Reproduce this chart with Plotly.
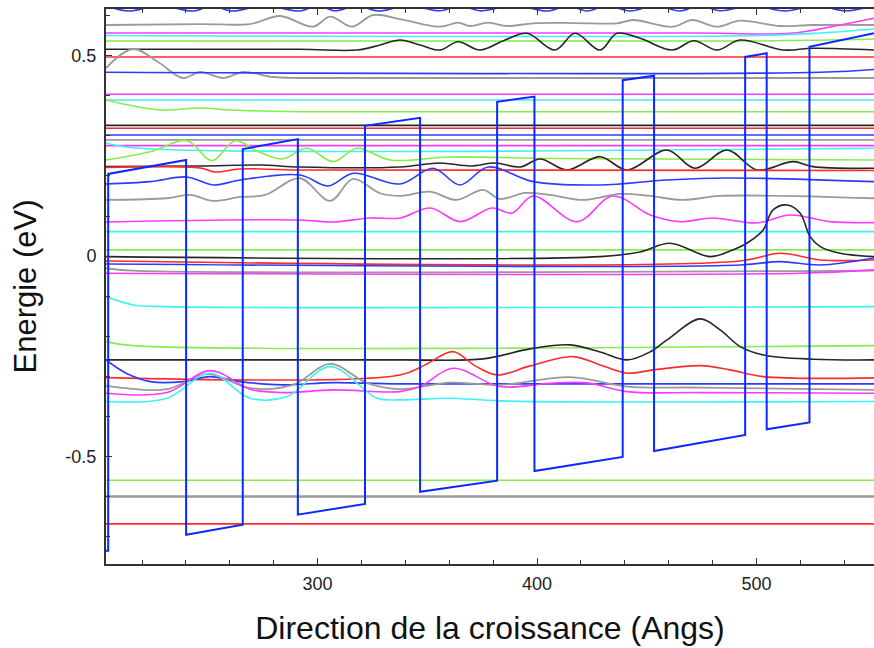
import plotly.graph_objects as go

# ---------------- axes ----------------
x_range = [203.6, 553.5]
y_range = [-0.768, 0.6165]
y_tick_vals = [-0.5, 0, 0.5]
y_tick_text = ["-0.5", "0", "0.5"]
x_tick_vals = [300, 400, 500]
x_tick_text = ["300", "400", "500"]

# ---------------- flat sub-band levels (eV) ----------------
red_levels = [0.4968, 0.319, -0.6678]
blue_levels = [0.3022]
gray_levels = [0.2898]
gray_thick_levels = [-0.5998]
magenta_levels = [0.4037, 0.2756]
cyan_levels = [0.3895, 0.0611]
green_levels = [0.0155, -0.5589]
black_levels = [0.3264]

# ---------------- wavy states (x in Angs, y in eV) ----------------
blue_edge_x = [203.6, 213.7, 228.0, 243.7, 252.0, 260.6, 276.0, 292.0, 300.0, 308.0, 318.0, 327.6,
               341.0, 355.8, 365.0, 374.0, 390.0, 405.0, 414.0, 422.8, 432.0, 442.4, 454.0, 465.1,
               474.0, 483.4, 498.0, 513.0, 527.0, 540.8, 553.5]
blue_edge_y = [0.625, 0.6115, 0.625, 0.6115, 0.625, 0.6115, 0.625, 0.6115, 0.625, 0.612, 0.625, 0.6115,
               0.625, 0.612, 0.625, 0.612, 0.625, 0.6115, 0.625, 0.6115, 0.625, 0.6115, 0.625, 0.6115,
               0.625, 0.612, 0.625, 0.6115, 0.625, 0.612, 0.625]

gray_a_x = [203.6, 246.5, 269.2, 282.9, 297.9, 305.7, 315.7, 325.3, 337.6, 355.8, 364.0, 369.5, 377.7,
            386.3, 398.2, 417.3, 436.4, 443.7, 461.9, 470.6, 482.0, 492.5, 510.7, 525.7, 553.5]
gray_a_y = [0.5766, 0.579, 0.579, 0.599, 0.5723, 0.5973, 0.5723, 0.6015, 0.5915, 0.5723, 0.5823, 0.5741,
            0.5823, 0.5741, 0.5808, 0.5815, 0.5808, 0.589, 0.5723, 0.589, 0.5723, 0.5873, 0.5741, 0.5766, 0.5766]

magenta_a_x = [203.6, 474.3, 515.3, 535.8, 553.5]
magenta_a_y = [0.5566, 0.5566, 0.5558, 0.5741, 0.5933]

cyan_a_x = [203.6, 501.6, 528.9, 553.5]
cyan_a_y = [0.5504, 0.5504, 0.5566, 0.5666]

green_a_x = [203.6, 500.0, 553.5]
green_a_y = [0.5367, 0.5367, 0.5416]

black_a_x = [203.6, 292.0, 318.0, 328.5, 337.6, 346.7, 355.8, 364.0, 374.0, 385.4, 395.4, 408.2, 417.3,
             428.7, 436.4, 446.9, 461.5, 471.5, 482.0, 492.5, 512.1, 525.7, 553.5]
black_a_y = [0.516, 0.516, 0.5142, 0.5267, 0.5392, 0.5267, 0.5142, 0.5349, 0.5142, 0.5392, 0.5559, 0.5142,
             0.5559, 0.5142, 0.5559, 0.5434, 0.5142, 0.5374, 0.5142, 0.5392, 0.5142, 0.5185, 0.5142]

gray_b_x = [203.6, 215.9, 227.3, 238.7, 246.5, 256.9, 266.1, 279.7, 292.0, 553.5]
gray_b_y = [0.4693, 0.5167, 0.4843, 0.4444, 0.4594, 0.4444, 0.4594, 0.4469, 0.4444, 0.4444]

blue_b_x = [203.6, 528.9, 553.5]
blue_b_y = [0.4586, 0.4586, 0.4656]

green_b_x = [203.6, 228.2, 246.5, 260.6, 292.0, 553.5]
green_b_y = [0.3895, 0.3646, 0.3696, 0.3646, 0.3603, 0.3603]

cyan_c_x = [203.6, 216.9, 553.5]
cyan_c_y = [0.2823, 0.2698, 0.2691]

green_c_x = [203.6, 223.8, 240.5, 251.9, 262.4, 272.4, 283.8, 295.2, 307.1, 318.0, 333.0, 360.4, 405.9, 553.5]
green_c_y = [0.240, 0.2606, 0.288, 0.2382, 0.288, 0.2623, 0.2424, 0.2691, 0.2357, 0.2691, 0.240, 0.2474, 0.2436, 0.240]

black_c_x = [203.6, 246.5, 273.8, 292.0, 337.6, 355.8, 369.5, 380.9, 392.3, 401.4, 413.7, 428.7, 441.0,
             459.2, 472.0, 486.6, 500.2, 516.6, 525.7, 553.5]
black_c_y = [0.2232, 0.2249, 0.2274, 0.2224, 0.2224, 0.2324, 0.2249, 0.2324, 0.2224, 0.2424, 0.215, 0.2481,
             0.215, 0.2648, 0.2192, 0.2648, 0.215, 0.2357, 0.2232, 0.2192]

red_c_x = [203.6, 246.5, 253.3, 264.7, 292.0, 553.5]
red_c_y = [0.2212, 0.220, 0.210, 0.2175, 0.215, 0.2137]

blue_c_x = [203.6, 223.8, 240.5, 252.4, 264.7, 292.0, 304.8, 316.2, 337.6, 352.6, 364.9, 377.7, 398.2,
            428.7, 459.2, 486.6, 553.5]
blue_c_y = [0.180, 0.1858, 0.1975, 0.1776, 0.190, 0.2025, 0.1751, 0.2067, 0.180, 0.2192, 0.1776, 0.2224,
            0.1858, 0.1776, 0.190, 0.195, 0.1858]

gray_c_x = [203.6, 231.4, 241.9, 252.4, 264.7, 276.1, 292.0, 305.7, 316.2, 328.5, 337.6, 351.3, 363.1,
            375.4, 383.1, 394.5, 405.9, 421.0, 437.8, 451.5, 466.5, 483.4, 553.5]
gray_c_y = [0.1401, 0.1444, 0.1526, 0.1377, 0.1476, 0.1526, 0.1943, 0.1377, 0.1925, 0.1569, 0.1501, 0.1608,
            0.1401, 0.1651, 0.1426, 0.1576, 0.1526, 0.1401, 0.1551, 0.1501, 0.1401, 0.1501, 0.1444]

magenta_c_x = [203.6, 292.0, 307.1, 323.9, 337.6, 351.3, 364.9, 379.5, 388.6, 398.2, 418.2, 434.6, 451.5,
               465.1, 480.2, 500.2, 515.3, 533.5, 553.5]
magenta_c_y = [0.0853, 0.0903, 0.0853, 0.0953, 0.0953, 0.1202, 0.086, 0.1202, 0.1077, 0.1501, 0.086, 0.1501,
               0.1027, 0.086, 0.0953, 0.0828, 0.1027, 0.086, 0.0835]

black_d_x = [203.6, 428.7, 446.9, 460.5, 478.8, 487.9, 495.7, 503.0, 507.5, 513.9, 519.8, 524.4, 529.0, 538.0, 553.5]
black_d_y = [-0.0012, -0.0012, 0.0105, 0.0322, -0.0012, 0.013, 0.0329, 0.0653, 0.1152, 0.1277, 0.1077,
             0.0486, 0.0237, 0.0072, -0.0012]

red_d_x = [203.6, 492.5, 510.7, 529.0, 553.5]
red_d_y = [-0.012, -0.012, 0.0072, -0.0095, -0.0095]

blue_d_x = [203.6, 492.5, 510.7, 529.0, 553.5]
blue_d_y = [-0.0195, -0.022, -0.0137, -0.022, -0.0045]

gray_d_x = [203.6, 215.9, 553.5]
gray_d_y = [-0.0302, -0.0362, -0.0362]

magenta_d_x = [203.6, 519.8, 553.5]
magenta_d_y = [-0.0426, -0.0426, -0.0344]

cyan_e_x = [203.6, 215.9, 231.4, 553.5]
cyan_e_y = [-0.101, -0.1217, -0.1259, -0.1259]

green_e_x = [203.6, 215.9, 553.5]
green_e_y = [-0.2132, -0.2232, -0.2232]

black_f_x = [203.6, 337.6, 375.4, 396.8, 415.0, 428.7, 441.0, 451.5, 459.2, 474.3, 483.4, 492.5, 503.0, 525.7, 553.5]
black_f_y = [-0.2589, -0.2589, -0.2564, -0.2314, -0.2214, -0.2389, -0.2589, -0.2389, -0.209, -0.1566, -0.184,
             -0.2257, -0.2464, -0.2571, -0.2589]

red_f_x = [203.6, 337.6, 349.0, 361.7, 371.8, 381.8, 396.8, 416.4, 428.7, 441.0, 452.8, 474.3, 487.9, 503.0, 553.5]
red_f_y = [-0.303, -0.2963, -0.2713, -0.2382, -0.2738, -0.2963, -0.2738, -0.2506, -0.2713, -0.292, -0.2838,
           -0.2731, -0.2838, -0.3005, -0.3037]

blue_f_x = [203.6, 212.8, 223.8, 238.7, 251.0, 264.7, 284.3, 307.1, 337.6, 553.5]
blue_f_y = [-0.2589, -0.292, -0.313, -0.313, -0.3005, -0.313, -0.3212, -0.3155, -0.3187, -0.3187]

gray_f_x = [203.6, 231.4, 249.7, 269.2, 288.8, 305.7, 322.6, 337.6, 360.4, 383.1, 415.0, 441.0, 474.3, 553.5]
gray_f_y = [-0.3237, -0.3319, -0.2938, -0.3294, -0.3212, -0.2688, -0.317, -0.3319, -0.3155, -0.3212, -0.302,
            -0.3254, -0.3279, -0.3337]

magenta_f_x = [203.6, 231.4, 251.0, 269.2, 284.3, 307.1, 337.6, 346.7, 361.7, 383.1, 405.9, 422.8, 441.0, 474.3, 553.5]
magenta_f_y = [-0.3419, -0.3404, -0.2855, -0.3319, -0.3404, -0.3337, -0.3379, -0.3254, -0.2796, -0.3254, -0.317,
               -0.3162, -0.3379, -0.3404, -0.3419]

cyan_f_x = [203.6, 231.4, 251.0, 269.2, 286.1, 305.7, 327.1, 337.6, 360.4, 383.1, 553.5]
cyan_f_y = [-0.3628, -0.3544, -0.292, -0.3544, -0.3504, -0.2756, -0.3544, -0.3586, -0.3544, -0.3611, -0.3628]

# ---------------- band-edge potential profile ----------------
pot_x = [203.6, 204.6, 204.6, 240.1, 240.1, 265.9, 265.9, 291.0, 291.0, 321.6, 321.6, 346.7, 346.7, 381.8,
         381.8, 398.8, 398.8, 439.0, 439.0, 453.3, 453.3, 494.8, 494.8, 504.6, 504.6, 524.1, 524.1, 553.5]
pot_y = [-0.735, -0.735, 0.205, 0.240, -0.695, -0.670, 0.267, 0.292, -0.645, -0.618, 0.325, 0.345, -0.588,
         -0.560, 0.385, 0.398, -0.536, -0.501, 0.439, 0.450, -0.486, -0.446, 0.497, 0.506, -0.432, -0.415,
         0.522, 0.556]

# ---------------- styles ----------------
RED = "#ff2a2a"
BLUE = "#2a3cff"
GRAY = "#9a9a9a"
MAGENTA = "#ff38ff"
CYAN = "#3cf2f2"
GREEN = "#86ec4a"
BLACK = "#262626"

fig = go.Figure()


def add_curve(xs, ys, color, width=1.6, shape="spline"):
    fig.add_trace(go.Scatter(x=xs, y=ys, mode="lines", hoverinfo="skip",
                             line=dict(color=color, width=width, shape=shape, smoothing=1.0)))


def add_levels(levels, color, width=1.6):
    for lv in levels:
        add_curve(x_range, [lv, lv], color, width, "linear")


add_levels(cyan_levels, CYAN)
add_levels(green_levels, GREEN)
add_levels(magenta_levels, MAGENTA)
add_levels(gray_levels, GRAY, 1.8)
add_levels(gray_thick_levels, GRAY, 2.6)
add_levels(red_levels, RED, 1.6)
add_levels(blue_levels, BLUE)
add_levels(black_levels, BLACK, 1.8)

add_curve(blue_edge_x, blue_edge_y, BLUE)
add_curve(gray_a_x, gray_a_y, GRAY, 1.8)
add_curve(magenta_a_x, magenta_a_y, MAGENTA)
add_curve(cyan_a_x, cyan_a_y, CYAN)
add_curve(green_a_x, green_a_y, GREEN)
add_curve(black_a_x, black_a_y, BLACK)
add_curve(gray_b_x, gray_b_y, GRAY, 1.8)
add_curve(blue_b_x, blue_b_y, BLUE)
add_curve(green_b_x, green_b_y, GREEN)
add_curve(cyan_c_x, cyan_c_y, CYAN)
add_curve(green_c_x, green_c_y, GREEN)
add_curve(black_c_x, black_c_y, BLACK)
add_curve(red_c_x, red_c_y, RED)
add_curve(blue_c_x, blue_c_y, BLUE)
add_curve(gray_c_x, gray_c_y, GRAY, 1.8)
add_curve(magenta_c_x, magenta_c_y, MAGENTA)
add_curve(black_d_x, black_d_y, BLACK)
add_curve(red_d_x, red_d_y, RED)
add_curve(blue_d_x, blue_d_y, BLUE)
add_curve(gray_d_x, gray_d_y, GRAY, 1.8)
add_curve(magenta_d_x, magenta_d_y, MAGENTA)
add_curve(cyan_e_x, cyan_e_y, CYAN)
add_curve(green_e_x, green_e_y, GREEN)
add_curve(black_f_x, black_f_y, BLACK)
add_curve(red_f_x, red_f_y, RED)
add_curve(blue_f_x, blue_f_y, BLUE)
add_curve(gray_f_x, gray_f_y, GRAY, 1.8)
add_curve(magenta_f_x, magenta_f_y, MAGENTA)
add_curve(cyan_f_x, cyan_f_y, CYAN)

add_curve(pot_x, pot_y, "#0a28ff", 2.0, "linear")

FONT = "Liberation Sans, Arial, sans-serif"

fig.update_layout(
    width=874, height=648,
    margin=dict(l=106, r=0, t=9, b=84),
    paper_bgcolor="white", plot_bgcolor="white",
    showlegend=False,
    font=dict(family=FONT, color="#1a1a1a"),
)

fig.update_xaxes(
    range=x_range, showgrid=False, zeroline=False,
    showline=True, linecolor="#333333", linewidth=2, mirror="ticks",
    ticks="inside", ticklen=6, tickcolor="#333333", tickwidth=1.2,
    tickvals=x_tick_vals, ticktext=x_tick_text, tickfont=dict(size=18, family=FONT, color="#222"),
    ticklabelstandoff=2,
    minor=dict(dtick=20, tick0=200, ticks="inside", ticklen=4, tickcolor="#333333", showgrid=False),
    title=dict(text="Direction de la croissance (Angs)", font=dict(size=32, family=FONT, color="#111"),
               standoff=24),
    automargin=False,
)
fig.update_yaxes(
    range=y_range, showgrid=False, zeroline=False,
    showline=True, linecolor="#333333", linewidth=2,
    ticks="inside", ticklen=6, tickcolor="#333333", tickwidth=1.2,
    tickvals=y_tick_vals, ticktext=y_tick_text, tickfont=dict(size=18, family=FONT, color="#222"),
    ticklabelstandoff=4,
    minor=dict(dtick=0.1, tick0=0, ticks="inside", ticklen=4, tickcolor="#333333", showgrid=False),
    title=dict(text="Energie (eV)", font=dict(size=31, family=FONT, color="#111"), standoff=20),
    automargin=False,
)

fig.write_html(
    "out.html",
    config={"displayModeBar": False},
    post_script="document.body.style.margin='0px';document.body.style.overflow='hidden';",
)
